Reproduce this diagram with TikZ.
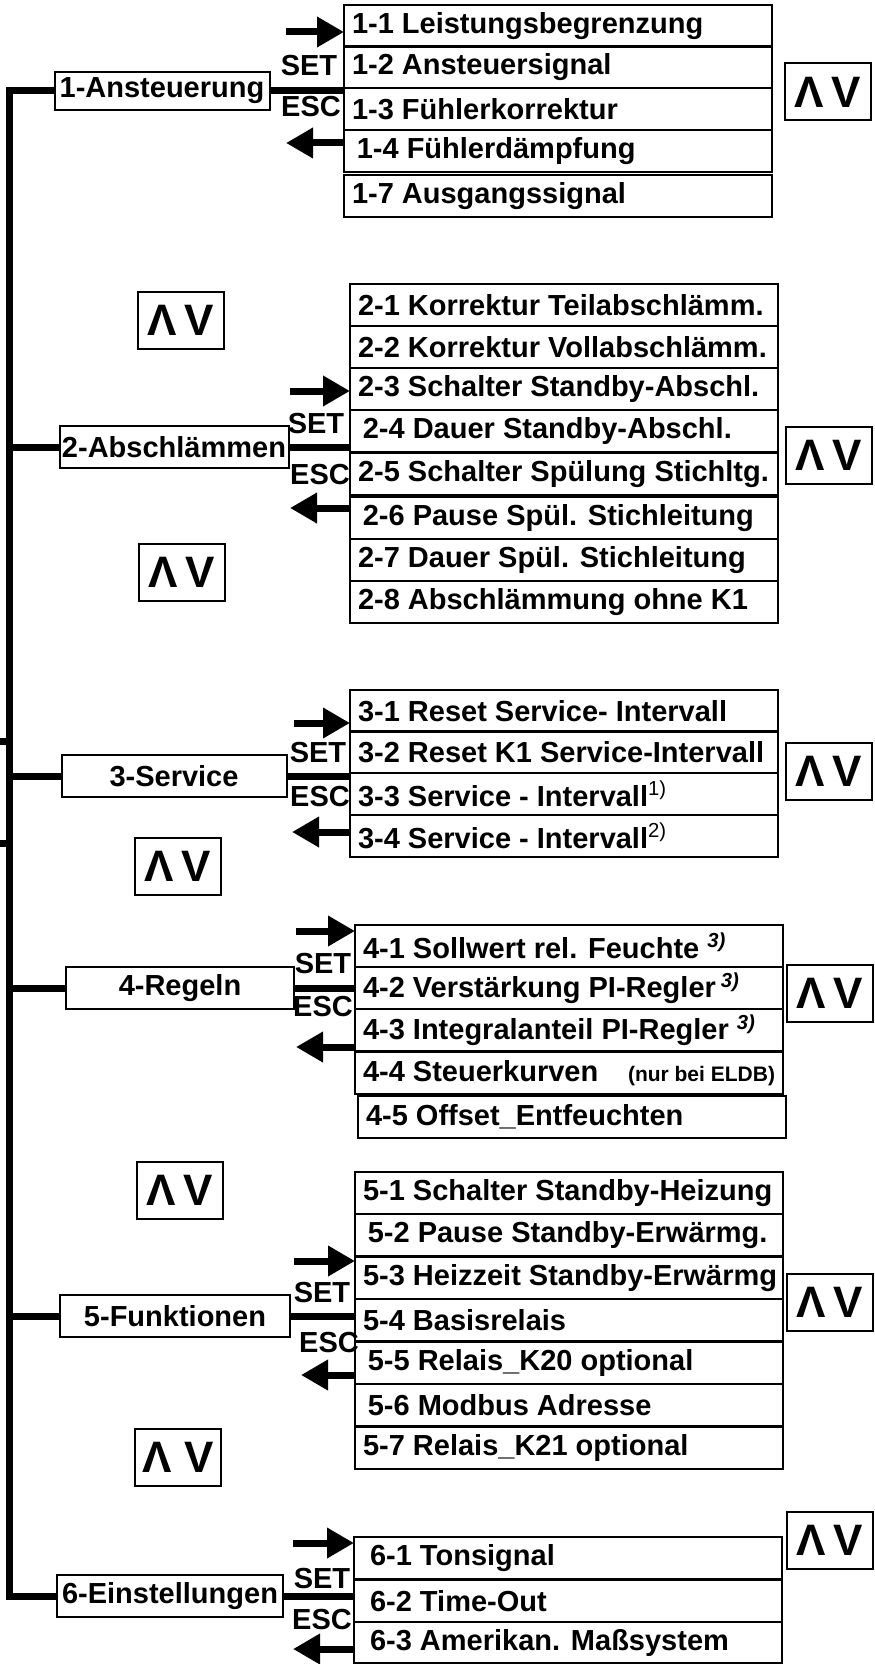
\documentclass[tikz,border=0pt]{standalone}
\usepackage{fontspec}
\setmainfont{Liberation Sans}
\usetikzlibrary{arrows.meta}

\begin{document}
\begin{tikzpicture}[x=0.5pt,y=-0.5pt]
            \tikzstyle{every node}+=[inner sep=0pt, outer sep=0pt, font=\bfseries\fontsize{14.5}{16}\selectfont]
            \tikzstyle{menu}=[draw, line width=1pt, minimum width=114pt, minimum height=21pt]
            \tikzstyle{entry}=[draw, line width=1pt, anchor=north west, minimum width=214pt, minimum height=21pt, inner xsep=4pt,
                execute at begin node={\hbox to 206pt\bgroup}, execute at end node={\hss\egroup}]
            \tikzstyle{updown}=[draw, line width=1pt, minimum width=43pt, minimum height=28.5pt, font=\bfseries\fontsize{22}{22}\selectfont]
            \tikzstyle{bus}=[line width=3.5pt]
            \tikzstyle{push}=[line width=3.5pt, -{Triangle[length=13.5pt,width=14.5pt]}]
            \useasboundingbox (0,0) rectangle (874,1664);
            \coordinate (rail) at (9,0);
            \node [menu, minimum width=107.5pt, minimum height=19pt] (m1) at (162,91) {1-Ansteuerung};
            \node [menu, minimum width=114.5pt] (m2) at (174,447) {2-Abschlämmen};
            \node [menu, minimum width=112.5pt] (m3) at (174,776) {3-Service};
            \node [menu, minimum width=114pt] (m4) at (180,988) {4-Regeln};
            \node [menu, minimum width=115pt] (m5) at (175,1316) {5-Funktionen};
            \node [menu, minimum width=113pt] (m6) at (170,1596) {6-Einstellungen};
            \draw [bus] (m1.west) -- (m1.west -| rail) -- (m6.west -| rail) -- (m6.west);
            \draw [bus] (m2.west -| rail) -- (m2.west);
            \draw [bus] (m3.west -| rail) -- (m3.west);
            \draw [bus] (m4.west -| rail) -- (m4.west);
            \draw [bus] (m5.west -| rail) -- (m5.west);
            \draw [bus] (0,741) -- (9,741);
            \draw [bus] (0,843) -- (9,843);
            \node [entry] (e11) at (344,5) {1-1 Leistungsbegrenzung};
            \node [entry] (e12) at (344,46) {1-2 Ansteuersignal};
            \node [entry] (e13) at (344,88) {1-3 Fühlerkorrektur};
            \node [entry] (e14) at (344,130) {\,1-4 Fühlerdämpfung};
            \node [entry] (e17) at (344,175) {1-7 Ausgangssignal};
            \node [entry] (e21) at (350,284) {2-1 Korrektur Teilabschlämm.};
            \node [entry] (e22) at (350,326) {2-2 Korrektur Vollabschlämm.};
            \node [entry] (e23) at (350,368) {2-3 Schalter Standby-Abschl.};
            \node [entry] (e24) at (350,410) {\,2-4 Dauer Standby-Abschl.};
            \node [entry] (e25) at (350,453) {2-5 Schalter Spülung Stichltg.};
            \node [entry] (e26) at (350,497) {\,2-6 Pause Spül. Stichleitung};
            \node [entry] (e27) at (350,539) {2-7 Dauer Spül. Stichleitung};
            \node [entry] (e28) at (350,581) {2-8 Abschlämmung ohne K1};
            \node [entry] (e31) at (350,690) {3-1 Reset Service- Intervall};
            \node [entry] (e32) at (350,731) {3-2 Reset K1 Service-Intervall};
            \node [entry] (e33) at (350,773) {3-3 Service - Intervall\textsuperscript{\mdseries 1)}};
            \node [entry] (e34) at (350,815) {3-4 Service - Intervall\textsuperscript{\mdseries 2)}};
            \node [entry] (e41) at (355,925) {4-1 Sollwert rel. Feuchte \textsuperscript{\itshape 3)}};
            \node [entry] (e42) at (355,967) {4-2 Verstärkung PI-Regler\,\textsuperscript{\itshape 3)}};
            \node [entry] (e43) at (355,1009) {4-3 Integralanteil PI-Regler \textsuperscript{\itshape 3)}};
            \node [entry] (e44) at (355,1052) {4-4 Steuerkurven\hspace{\fill}{\fontsize{10.5}{12}\selectfont(nur bei ELDB)}};
            \node [entry] (e45) at (358,1096) {4-5 Offset\_Entfeuchten};
            \node [entry] (e51) at (355,1172) {5-1 Schalter Standby-Heizung};
            \node [entry] (e52) at (355,1214) {\,5-2 Pause Standby-Erwärmg.};
            \node [entry] (e53) at (355,1257) {5-3 Heizzeit Standby-Erwärmg};
            \node [entry] (e54) at (355,1299) {5-4 Basisrelais};
            \node [entry] (e55) at (355,1342) {\,5-5 Relais\_K20 optional};
            \node [entry] (e56) at (355,1384) {\,5-6 Modbus Adresse};
            \node [entry] (e57) at (355,1427) {5-7 Relais\_K21 optional};
            \node [entry] (e61) at (354,1537) {\;6-1 Tonsignal};
            \node [entry] (e62) at (354,1580) {\;6-2 Time-Out};
            \node [entry, minimum height=20.5pt] (e63) at (354,1622) {\;6-3 Amerikan. Maßsystem};
            \draw [bus] (m1.east) -- (m1.east -| e11.west);
            \draw [bus] (m2.east) -- (m2.east -| e21.west);
            \draw [bus] (m3.east) -- (m3.east -| e31.west);
            \draw [bus] (m4.east) -- (m4.east -| e41.west);
            \draw [bus] (m5.east) -- (m5.east -| e51.west);
            \draw [bus] (m6.east) -- (m6.east -| e61.west);
            \coordinate (in1) at (286,32);
            \coordinate (out1) at (286,143);
            \coordinate (in2) at (290,391);
            \coordinate (out2) at (290,508);
            \coordinate (in3) at (294,723);
            \coordinate (out3) at (292,832);
            \coordinate (in4) at (296,931);
            \coordinate (out4) at (296,1047);
            \coordinate (in5) at (294,1261);
            \coordinate (out5) at (301,1375);
            \coordinate (in6) at (293,1543);
            \coordinate (out6) at (293,1649);
            \draw [push] (in1) -- (in1 -| e11.west);
            \draw [push] (out1 -| e11.west) -- (out1);
            \draw [push] (in2) -- (in2 -| e21.west);
            \draw [push] (out2 -| e21.west) -- (out2);
            \draw [push] (in3) -- (in3 -| e31.west);
            \draw [push] (out3 -| e31.west) -- (out3);
            \draw [push] (in4) -- (in4 -| e41.west);
            \draw [push] (out4 -| e41.west) -- (out4);
            \draw [push] (in5) -- (in5 -| e51.west);
            \draw [push] (out5 -| e51.west) -- (out5);
            \draw [push] (in6) -- (in6 -| e61.west);
            \draw [push] (out6 -| e61.west) -- (out6);
            \node (set1) at (309,66) {SET};
            \node (esc1) at (311,107) {ESC};
            \node (set2) at (316,424) {SET};
            \node (esc2) at (320,475) {ESC};
            \node (set3) at (318,753) {SET};
            \node (esc3) at (320,797) {ESC};
            \node (set4) at (323,964) {SET};
            \node (esc4) at (323,1007) {ESC};
            \node (set5) at (322,1293) {SET};
            \node (esc5) at (329,1343) {ESC};
            \node (set6) at (322,1578) {SET};
            \node (esc6) at (322,1619) {ESC};
            \node [updown] (ud1) at (828,92) {Λ\,V};
            \node [updown] (ud2) at (181,320) {Λ\,V};
            \node [updown] (ud3) at (829,455) {Λ\,V};
            \node [updown] (ud4) at (182,572) {Λ\,V};
            \node [updown] (ud5) at (829,771) {Λ\,V};
            \node [updown] (ud6) at (178,866) {Λ\,V};
            \node [updown] (ud7) at (830,993) {Λ\,V};
            \node [updown] (ud8) at (180,1190) {Λ\,V};
            \node [updown] (ud9) at (830,1302) {Λ\,V};
            \node [updown] (ud10) at (178,1457) {Λ V};
            \node [updown] (ud11) at (830,1540) {Λ\,V};
\end{tikzpicture}
\end{document}
